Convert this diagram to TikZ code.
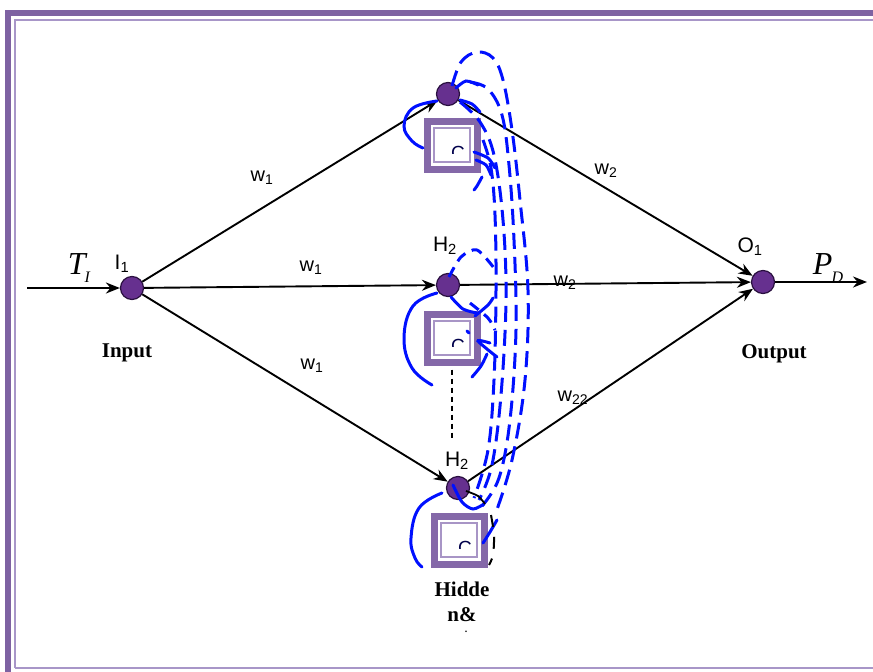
\documentclass[tikz,border=0pt]{standalone}
\usepackage{fontspec}
\setmainfont{Liberation Serif}
\setsansfont{Liberation Sans}
\usetikzlibrary{arrows.meta}

\definecolor{framepurple}{HTML}{7E62A2}
\definecolor{framelight}{HTML}{A896C8}
\definecolor{neuronfill}{HTML}{66308F}
\definecolor{neuronedge}{HTML}{2A1040}
\definecolor{ctxpurple}{HTML}{8468A8}
\definecolor{ctxlight}{HTML}{A895C6}
\definecolor{loopblue}{HTML}{0010FF}

% context unit: purple square with a white window and a clipped "C"
\newcommand\ctxbox[3]{%
  \node[minimum width=57pt,minimum height=55pt,inner sep=0pt] (#1) at (#2,#3) {};
  \begin{scope}[shift={(#2,#3)}]
    \fill[ctxpurple] (-28.5,-27.5) rectangle (28.5,27.5);
    \fill[white] (-21.5,-20.5) rectangle (21.5,20.5);
    \draw[ctxlight,line width=2.6pt] (-18,-17) rectangle (18,17);
    \begin{scope}
      \clip (-16.5,-15.5) rectangle (16.5,8);
      \node[font=\sffamily\fontsize{19}{19}\selectfont,text=black!70!blue,inner sep=0pt,anchor=north] at (6,1) {C};
    \end{scope}
  \end{scope}}

\begin{document}
\begin{tikzpicture}[x=1pt,y=-1pt,
  neuron/.style={circle,fill=neuronfill,draw=neuronedge,line width=1.2pt,minimum size=23pt,inner sep=0pt},
  link/.style={line width=1.9pt,-{Stealth[length=14pt,width=11pt]}},
  wlab/.style={font=\sffamily\fontsize{20}{20}\selectfont,inner sep=0pt},
  nlab/.style={font=\sffamily\fontsize{21}{21}\selectfont,inner sep=0pt},
  blab/.style={font=\bfseries\fontsize{21}{25}\selectfont,inner sep=0pt,align=center},
  iolab/.style={font=\itshape\fontsize{32}{32}\selectfont,inner sep=0pt},
  solidloop/.style={loopblue,line width=3pt,line cap=round},
  dashloop/.style={loopblue,line width=3pt,dash pattern=on 16pt off 8pt},
  shortdash/.style={loopblue,line width=3pt,dash pattern=on 11pt off 7pt}]

\useasboundingbox (0,0) rectangle (873,672);

% frame
\draw[framelight,line width=2.5pt] (15,668) -- (15,20) -- (900,20);
\draw[framelight,line width=2.5pt] (15,668) -- (900,668);
\draw[framepurple,line width=6pt] (8,700) -- (8,13) -- (900,13);

% context units
\ctxbox{c1}{452}{145}
\ctxbox{c2}{452}{338}
\ctxbox{c3}{459}{540}

% neurons
\node[neuron] (i1) at (132,288) {};
\node[neuron] (h1) at (448,94) {};
\node[neuron] (h2) at (448,285) {};
\node[neuron] (h3) at (458,488) {};
\node[neuron] (o1) at (763,282) {};

\coordinate (tin) at (27,288);
\coordinate (pout) at (867,282);

% connections
\draw[link] (tin) -- (i1);
\draw[link] (i1) -- (h1);
\draw[link] (i1) -- (h2);
\draw[link] (i1) -- (h3);
\draw[link] (h1) -- (o1);
\draw[link] (h2) -- (o1);
\draw[link] (h3) -- (o1);
\draw[link] (o1) -- (pout);

% dotted continuation between hidden units
\draw[line width=1.4pt,dash pattern=on 5pt off 4pt] (c2.south) ++(0,4) -- (452,440);

% recurrent context loops
\draw[solidloop] plot[smooth,tension=0.7] coordinates {(437,101) (413,108) (404,126) (412,141) (423,148)};
\draw[solidloop] plot[smooth,tension=0.7] coordinates {(437,293) (413,306) (404,338) (412,368) (432,385)};
\draw[solidloop] plot[smooth,tension=0.7] coordinates {(442,493) (419,508) (411,538) (415,558) (422,567)};

\draw[solidloop] plot[smooth] coordinates {(456,88) (466,81) (478,85)};
\draw[solidloop] plot[smooth] coordinates {(460,100) (472,104) (480,112)};
\draw[solidloop] plot[smooth] coordinates {(474,152) (488,158) (495,168)};
\draw[solidloop] plot[smooth] coordinates {(476,160) (486,165) (491,175)};
\draw[solidloop] plot[smooth] coordinates {(482,177) (477,186) (474,190)};

\draw[solidloop] plot[smooth] coordinates {(451,297) (463,309) (477,313)};
\draw[solidloop] plot[smooth] coordinates {(475,316) (488,305) (493,298)};
\draw[solidloop] plot[smooth] coordinates {(490,343) (478,341) (497,357)};
\draw[solidloop] (467,331) -- (469,333);
\draw[solidloop] plot[smooth] coordinates {(472,377) (481,366) (487,354)};

\draw[solidloop] plot[smooth] coordinates {(453,485) (462,502) (473,509) (484,504)};
\draw[solidloop] plot[smooth] coordinates {(483,543) (490,532) (497,520)};

\draw[shortdash] plot[smooth] coordinates {(449,277) (461,257) (477,250) (494,268)};
\draw[shortdash] plot[smooth] coordinates {(470,303) (488,318) (495,330)};

\draw[dashloop] plot[smooth,tension=0.6] coordinates {(452,86) (461,62) (477,52) (493,58) (503,80) (512,130) (520,200) (528,290) (525,380) (512,460) (495,515)};
\draw[dashloop] plot[smooth,tension=0.6] coordinates {(470,82) (488,89) (502,115) (509,165) (514,240) (516,330) (510,420) (499,478) (482,506)};
\draw[dashloop] plot[smooth,tension=0.6] coordinates {(460,102) (480,122) (494,155) (503,220) (506,300) (501,395) (492,465) (479,500)};
\draw[dashloop] plot[smooth,tension=0.6] coordinates {(483,140) (491,168) (495,215) (496,290) (494,380) (488,450) (474,498)};

% black return arc at the last hidden unit
\draw[line width=1.8pt] plot[smooth] coordinates {(466,491) (478,496) (485,504)};
\draw[line width=2pt,dash pattern=on 12pt off 10pt] plot[smooth] coordinates {(491,515) (494,535) (493,555) (489,565)};

% labels
\node[iolab] at (79,268) {T\kern-1pt\raisebox{-8pt}{\fontsize{16}{16}\selectfont I}};
\node[iolab] at (828,268) {P\kern-1pt\raisebox{-8pt}{\fontsize{16}{16}\selectfont D}};
\node[nlab] at (122,264) {I\textsubscript{1}};
\node[nlab] at (445,246) {H\textsubscript{2}};
\node[nlab] at (457,461) {H\textsubscript{2}};
\node[nlab] at (750,247) {O\textsubscript{1}};

\node[wlab] at (262,178) {w\textsubscript{1}};
\node[wlab] at (311,268) {w\textsubscript{1}};
\node[wlab] at (312,366) {w\textsubscript{1}};
\node[wlab] at (606,171) {w\textsubscript{2}};
\node[wlab] at (565,283) {w\textsubscript{2}};
\node[wlab] at (573,398) {w\textsubscript{22}};

\node[blab] at (127,353) {Input};
\node[blab] at (774,354) {Output};
\node[blab] at (462,602) {Hidde\\n\&};
\node[font=\bfseries\fontsize{10}{10}\selectfont,inner sep=0pt] at (466,632) {.};

\end{tikzpicture}
\end{document}
